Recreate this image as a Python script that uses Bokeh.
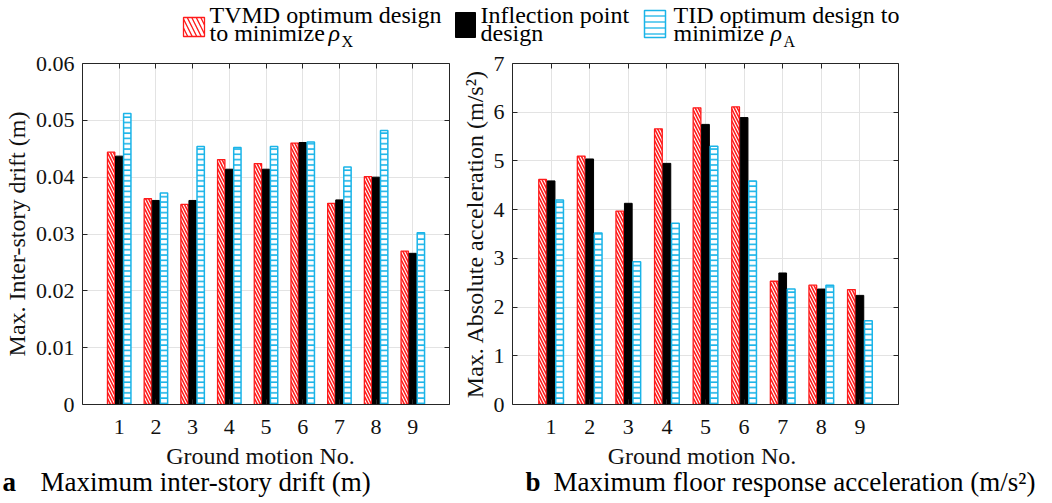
from bokeh.plotting import figure
from bokeh.layouts import column, row
from bokeh.models import ColumnDataSource, Range1d, FixedTicker, LinearAxis, Label
from bokeh.transform import dodge
from bokeh.embed import file_html
from bokeh.resources import INLINE

FONT = "Liberation Serif"
RED = "#ff1a1a"
CYAN = "#1ab4e8"
AXC = "#262626"

# ---------------- data ----------------
motions = [1, 2, 3, 4, 5, 6, 7, 8, 9]
motion_labels = ["1", "2", "3", "4", "5", "6", "7", "8", "9"]

drift_tvmd = [0.0444, 0.0362, 0.0352, 0.0431, 0.0424, 0.0460, 0.0354, 0.0401, 0.0270]
drift_infl = [0.0437, 0.0359, 0.0359, 0.0414, 0.0414, 0.0461, 0.0360, 0.0400, 0.0266]
drift_tid = [0.0512, 0.0372, 0.0454, 0.0452, 0.0454, 0.0462, 0.0418, 0.0482, 0.0302]

acc_tvmd = [4.62, 5.10, 3.97, 5.66, 6.09, 6.11, 2.53, 2.45, 2.36]
acc_infl = [4.59, 5.04, 4.13, 4.95, 5.75, 5.89, 2.70, 2.37, 2.24]
acc_tid = [4.20, 3.52, 2.93, 3.72, 5.30, 4.59, 2.37, 2.45, 1.72]

drift_ticks = [0, 0.01, 0.02, 0.03, 0.04, 0.05, 0.06]
drift_tick_labels = ["0", "0.01", "0.02", "0.03", "0.04", "0.05", "0.06"]
acc_ticks = [0, 1, 2, 3, 4, 5, 6, 7]
acc_tick_labels = ["0", "1", "2", "3", "4", "5", "6", "7"]

legend_line1 = ["TVMD optimum design", "Inflection point", "TID optimum design to"]
legend_line2 = ["to minimize", "design", "minimize"]
legend_sub = ["X", None, "A"]

xlabel = "Ground motion No."
ylabel_a = "Max. Inter-story drift (m)"
ylabel_b = "Max. Absolute acceleration (m/s²)"
caption_a = "Maximum inter-story drift (m)"
caption_b = "Maximum floor response acceleration (m/s²)"


def style_axis(ax, show_labels=True):
    ax.axis_line_color = AXC
    ax.axis_line_width = 1
    ax.major_tick_line_color = AXC
    ax.major_tick_in = 5
    ax.major_tick_out = 0
    ax.minor_tick_line_color = None
    if show_labels:
        ax.major_label_text_font = FONT
        ax.major_label_text_font_size = "22px"
        ax.major_label_text_color = "#111111"
    else:
        ax.major_label_text_font_size = "1px"
        ax.major_label_text_color = None
        ax.major_label_standoff = 0


def make_panel(width, border_left, border_right, ymax, yticks, ylabels, ylab,
               tvmd, infl, tid):
    p = figure(width=width, height=390, x_range=Range1d(0, 10), y_range=Range1d(0, ymax),
               min_border_left=border_left, min_border_right=border_right,
               min_border_top=13, min_border_bottom=36, title=None,
               output_backend="svg", toolbar_location=None)
    p.outline_line_color = None
    p.background_fill_color = "white"

    xa = p.xaxis[0]
    ya = p.yaxis[0]
    xa.ticker = FixedTicker(ticks=motions)
    xa.major_label_overrides = {m: l for m, l in zip(motions, motion_labels)}
    ya.ticker = FixedTicker(ticks=yticks)
    ya.major_label_overrides = {t: l for t, l in zip(yticks, ylabels)}
    style_axis(xa)
    style_axis(ya)
    xa.major_label_standoff = 15
    ya.major_label_standoff = 8
    ya.axis_label = ylab
    ya.axis_label_text_font = FONT
    ya.axis_label_text_font_size = "24px"
    ya.axis_label_text_font_style = "normal"
    ya.axis_label_text_color = "#111111"
    ya.axis_label_standoff = 3

    top = LinearAxis(ticker=FixedTicker(ticks=motions))
    style_axis(top, show_labels=False)
    p.add_layout(top, "above")
    right = LinearAxis(ticker=FixedTicker(ticks=yticks))
    style_axis(right, show_labels=False)
    p.add_layout(right, "right")

    p.xgrid.ticker = FixedTicker(ticks=motions)
    p.ygrid.ticker = FixedTicker(ticks=yticks)
    p.grid.grid_line_color = "#e3e3e3"
    p.grid.grid_line_width = 1

    src = ColumnDataSource(dict(x=motions, tvmd=tvmd, infl=infl, tid=tid))
    p.vbar(x=dodge("x", -0.22), top="tvmd", width=0.2, source=src,
           fill_color="white", line_color=RED, line_width=1.3,
           hatch_pattern="\\", hatch_color=RED, hatch_scale=6, hatch_weight=1.6)
    p.vbar(x="x", top="infl", width=0.2, source=src,
           fill_color="black", line_color="black", line_width=1)
    p.vbar(x=dodge("x", 0.22), top="tid", width=0.2, source=src,
           fill_color="white", line_color=CYAN, line_width=1.5,
           hatch_pattern="-", hatch_color=CYAN, hatch_scale=5.3, hatch_weight=1.6)
    return p


fig_a = make_panel(454, 78, 5, 0.06, drift_ticks, drift_tick_labels, ylabel_a,
                   drift_tvmd, drift_infl, drift_tid)
fig_b = make_panel(598, 58, 154, 7, acc_ticks, acc_tick_labels, ylabel_b,
                   acc_tvmd, acc_infl, acc_tid)


def strip(height):
    s = figure(width=1052, height=height, x_range=Range1d(0, 1052), y_range=Range1d(height, 0),
               x_axis_type=None, y_axis_type=None, min_border=0, title=None,
               output_backend="svg", toolbar_location=None)
    s.outline_line_color = None
    s.grid.visible = False
    return s


# ---------------- legend strip ----------------
leg = strip(50)
sw_left = [183, 455, 644]
sw_right = [204, 475, 665]
sw_top = [17, 12, 10]
text_x = [209, 480, 673]
rho_x = [328, None, 770]
sub_x = [341, None, 783]

leg.quad(left=[sw_left[0]], right=[sw_right[0]], top=[sw_top[0]], bottom=[36],
         fill_color="white", line_color=RED, line_width=1.3,
         hatch_pattern="\\", hatch_color=RED, hatch_scale=9, hatch_weight=1.3)
leg.quad(left=[sw_left[1]], right=[sw_right[1]], top=[sw_top[1]], bottom=[37],
         fill_color="black", line_color="black")
leg.quad(left=[sw_left[2]], right=[sw_right[2]], top=[sw_top[2]], bottom=[37],
         fill_color="white", line_color=CYAN, line_width=1.5,
         hatch_pattern="-", hatch_color=CYAN, hatch_scale=6, hatch_weight=1.3)

for i in range(3):
    leg.add_layout(Label(x=text_x[i], y=14, text=legend_line1[i], text_font=FONT,
                         text_font_size="24px", text_color="black",
                         text_baseline="alphabetic"))
    leg.add_layout(Label(x=text_x[i], y=32.5, text=legend_line2[i], text_font=FONT,
                         text_font_size="24px", text_color="black",
                         text_baseline="alphabetic"))
    if legend_sub[i] is not None:
        leg.add_layout(Label(x=rho_x[i], y=32.5, text="ρ", text_font=FONT,
                             text_font_size="24px", text_font_style="italic",
                             text_color="black", text_baseline="alphabetic"))
        leg.add_layout(Label(x=sub_x[i], y=40.5, text=legend_sub[i], text_font=FONT,
                             text_font_size="16px", text_color="black",
                             text_baseline="alphabetic"))

# ---------------- x-axis titles and captions strip ----------------
cap = strip(63)
for cx in (260, 701.5):
    cap.add_layout(Label(x=cx, y=15.5, text=xlabel, text_font=FONT, text_font_size="24px",
                         text_color="#111111", text_align="center",
                         text_baseline="alphabetic"))
cap_items = [(2, "a", "bold"), (40, caption_a, "normal"),
             (525, "b", "bold"), (553, caption_b, "normal")]
for cx, ctext, cstyle in cap_items:
    cap.add_layout(Label(x=cx, y=41.5, text=ctext, text_font=FONT, text_font_size="27px",
                         text_font_style=cstyle, text_color="black",
                         text_baseline="alphabetic"))

layout = column(leg, row(fig_a, fig_b, spacing=0), cap, spacing=0)

with open("out.html", "w") as f:
    f.write(file_html(layout, INLINE))
